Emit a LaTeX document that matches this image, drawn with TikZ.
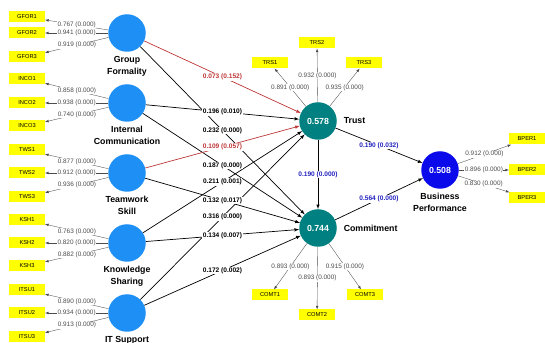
\documentclass[tikz,border=0pt]{standalone}
\usepackage{fontspec}
\setmainfont{Liberation Sans}
\usetikzlibrary{positioning}
\definecolor{exoblue}{RGB}{30,144,245}
\definecolor{endoteal}{RGB}{0,128,128}
\definecolor{bpblue}{RGB}{10,10,235}
\definecolor{pathred}{RGB}{190,55,55}
\definecolor{valblue}{RGB}{35,35,190}
\definecolor{indyellow}{RGB}{255,255,0}

\begin{document}
\begin{tikzpicture}[>=latex,
    exo/.style={circle,fill=exoblue,inner sep=0pt,minimum size=1.5cm},
    endo/.style={circle,fill=endoteal,inner sep=0pt,minimum size=1.5cm,text=white,font=\bfseries\fontsize{10}{12}\selectfont},
    target/.style={endo,fill=bpblue},
    indbox/.style={fill=indyellow,inner sep=0pt,minimum width=1.44cm,minimum height=0.44cm,font=\fontsize{6.5}{7}\selectfont},
    conname/.style={align=center,font=\bfseries\fontsize{10}{13.5}\selectfont},
    load/.style={->,gray!60!black,line width=0.4pt},
    loadval/.style={fill=white,inner sep=0.6pt,text=gray!60!black,font=\fontsize{7.3}{8}\selectfont},
    pathline/.style={->,line width=0.8pt},
    weakline/.style={pathline,pathred},
    pathval/.style={fill=white,inner sep=0.6pt,font=\bfseries\fontsize{7.5}{8}\selectfont},
    weakval/.style={pathval,text=pathred},
    blueval/.style={pathval,text=valblue}]
\useasboundingbox (0,0) rectangle (21.8,13.72);
%
% ============ Exogene Konstrukte ============
\node[exo] (gf)   at (5.08,12.40) {};
\node[exo] (ic)   at (5.08,9.60)  {};
\node[exo] (tws)  at (5.08,6.80)  {};
\node[exo] (ksh)  at (5.08,4.00)  {};
\node[exo] (itsu) at (5.08,1.20)  {};
\node[conname,below=0.05cm of gf]   (gfname)   {Group\\Formality};
\node[conname,below=0.05cm of ic]   (icname)   {Internal\\Communication};
\node[conname,below=0.05cm of tws]  (twsname)  {Teamwork\\Skill};
\node[conname,below=0.05cm of ksh]  (kshname)  {Knowledge\\Sharing};
\node[conname,below=0.05cm of itsu] (itsuname) {IT Support};
%
% Indikatoren links
\node[indbox] (gfor1) at (1.08,13.04) {GFOR1};
\node[indbox] (gfor2) at (1.08,12.40) {GFOR2};
\node[indbox] (gfor3) at (1.08,11.44) {GFOR3};
\node[indbox] (inco1) at (1.08,10.56) {INCO1};
\node[indbox] (inco2) at (1.08,9.60)  {INCO2};
\node[indbox] (inco3) at (1.08,8.68)  {INCO3};
\node[indbox] (tws1)  at (1.08,7.72)  {TWS1};
\node[indbox] (tws2)  at (1.08,6.80)  {TWS2};
\node[indbox] (tws3)  at (1.08,5.84)  {TWS3};
\node[indbox] (ksh1)  at (1.08,4.92)  {KSH1};
\node[indbox] (ksh2)  at (1.08,4.00)  {KSH2};
\node[indbox] (ksh3)  at (1.08,3.08)  {KSH3};
\node[indbox] (itsu1) at (1.08,2.12)  {ITSU1};
\node[indbox] (itsu2) at (1.08,1.20)  {ITSU2};
\node[indbox] (itsu3) at (1.08,0.24)  {ITSU3};
%
% Ladungen links
\draw[load] (gf) -- node[loadval] {0.767 (0.000)} (gfor1);
\draw[load] (gf) -- node[loadval] {0.941 (0.000)} (gfor2);
\draw[load] (gf) -- node[loadval] {0.919 (0.000)} (gfor3);
\draw[load] (ic) -- node[loadval] {0.858 (0.000)} (inco1);
\draw[load] (ic) -- node[loadval] {0.938 (0.000)} (inco2);
\draw[load] (ic) -- node[loadval] {0.740 (0.000)} (inco3);
\draw[load] (tws) -- node[loadval] {0.877 (0.000)} (tws1);
\draw[load] (tws) -- node[loadval] {0.912 (0.000)} (tws2);
\draw[load] (tws) -- node[loadval] {0.936 (0.000)} (tws3);
\draw[load] (ksh) -- node[loadval] {0.763 (0.000)} (ksh1);
\draw[load] (ksh) -- node[loadval] {0.820 (0.000)} (ksh2);
\draw[load] (ksh) -- node[loadval] {0.882 (0.000)} (ksh3);
\draw[load] (itsu) -- node[loadval] {0.890 (0.000)} (itsu1);
\draw[load] (itsu) -- node[loadval] {0.934 (0.000)} (itsu2);
\draw[load] (itsu) -- node[loadval] {0.913 (0.000)} (itsu3);
%
% ============ Endogene Konstrukte ============
\node[endo]   (trust) at (12.72,8.88) {0.578};
\node[endo]   (comm)  at (12.72,4.60) {0.744};
\node[target] (bp)    at (17.60,6.92) {0.508};
\node[conname,right=0.15cm of trust] (trustname) {Trust};
\node[conname,right=0.15cm of comm]  (commname)  {Commitment};
\node[conname,below=0.05cm of bp]    (bpname)    {Business\\Performance};
%
% Indikatoren Trust / Commitment / Business Performance
\node[indbox] (trs1)  at (10.80,11.20) {TRS1};
\node[indbox] (trs2)  at (12.68,12.00) {TRS2};
\node[indbox] (trs3)  at (14.56,11.20) {TRS3};
\node[indbox] (comt1) at (10.80,1.92)  {COMT1};
\node[indbox] (comt2) at (12.68,1.12)  {COMT2};
\node[indbox] (comt3) at (14.60,1.92)  {COMT3};
\node[indbox] (bper1) at (21.08,8.16)  {BPER1};
\node[indbox] (bper2) at (21.08,6.92)  {BPER2};
\node[indbox] (bper3) at (21.08,5.80)  {BPER3};
%
\draw[load] (trust) -- node[loadval] {0.891 (0.000)} (trs1);
\draw[load] (trust) -- node[loadval] {0.932 (0.000)} (trs2);
\draw[load] (trust) -- node[loadval] {0.935 (0.000)} (trs3);
\draw[load] (comm) -- node[loadval] {0.893 (0.000)} (comt1);
\draw[load] (comm) -- node[loadval] {0.893 (0.000)} (comt2);
\draw[load] (comm) -- node[loadval] {0.915 (0.000)} (comt3);
\draw[load] (bp) -- node[loadval] {0.912 (0.000)} (bper1);
\draw[load] (bp) -- node[loadval] {0.896 (0.000)} (bper2);
\draw[load] (bp) -- node[loadval] {0.830 (0.000)} (bper3);
%
% ============ Strukturmodell ============
% erst die Pfeile
\draw[weakline] (gf)    -- (trust);
\draw[pathline] (gf)    -- (comm);
\draw[pathline] (ic)    -- (trust);
\draw[pathline] (ic)    -- (comm);
\draw[weakline] (tws)   -- (trust);
\draw[pathline] (tws)   -- (comm);
\draw[pathline] (ksh)   -- (trust);
\draw[pathline] (ksh)   -- (comm);
\draw[pathline] (itsu)  -- (trust);
\draw[pathline] (itsu)  -- (comm);
\draw[pathline] (trust) -- (comm);
\draw[pathline] (trust) -- (bp);
\draw[pathline] (comm)  -- (bp);
% dann die Koeffizienten obendrauf
\path (gf)    -- node[weakval] {0.073 (0.152)} (trust);
\path (gf)    -- node[pathval] {0.232 (0.000)} (comm);
\path (ic)    -- node[pathval] {0.196 (0.010)} (trust);
\path (ic)    -- node[pathval] {0.187 (0.000)} (comm);
\path (tws)   -- node[weakval] {0.109 (0.057)} (trust);
\path (tws)   -- node[pathval] {0.132 (0.017)} (comm);
\path (ksh)   -- node[pathval] {0.211 (0.001)} (trust);
\path (ksh)   -- node[pathval] {0.134 (0.007)} (comm);
\path (itsu)  -- node[pathval] {0.316 (0.000)} (trust);
\path (itsu)  -- node[pathval] {0.172 (0.002)} (comm);
\path (trust) -- node[blueval] {0.190 (0.000)} (comm);
\path (trust) -- node[blueval] {0.190 (0.032)} (bp);
\path (comm)  -- node[blueval] {0.564 (0.000)} (bp);
%
\end{tikzpicture}
\end{document}
